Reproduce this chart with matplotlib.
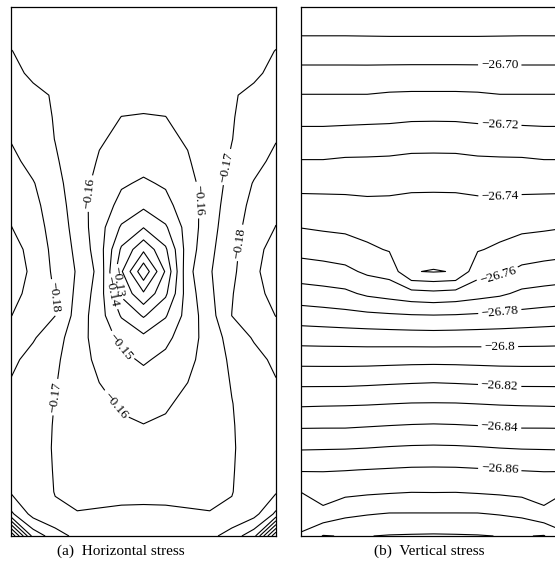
import numpy as np
import matplotlib
matplotlib.use("Agg")
import matplotlib.pyplot as plt

plt.rcParams["font.family"] = ["Liberation Serif", "DejaVu Serif"]

# Horizontal stress on the half section (left edge -> centre line),
# nodal rows listed from the top of the block down to its base.
sxx_half = [
    [-0.1680, -0.1675, -0.1668, -0.1662, -0.1655, -0.1648, -0.1642],
    [-0.1688, -0.1680, -0.1672, -0.1665, -0.1657, -0.1647, -0.1637],
    [-0.1701, -0.1688, -0.1677, -0.1668, -0.1652, -0.1640, -0.1632],
    [-0.1730, -0.1680, -0.1674, -0.1666, -0.1650, -0.1637, -0.1625],
    [-0.1755, -0.1725, -0.1690, -0.1671, -0.1652, -0.1625, -0.1615],
    [-0.1775, -0.1745, -0.1693, -0.1660, -0.1628, -0.1599, -0.1597],
    [-0.1795, -0.1752, -0.1698, -0.1653, -0.1608, -0.1583, -0.1563],
    [-0.1826, -0.1768, -0.1711, -0.1649, -0.1592, -0.1560, -0.1528],
    [-0.1846, -0.1806, -0.1732, -0.1646, -0.1569, -0.1510, -0.1489],
    [-0.1875, -0.1825, -0.1752, -0.1650, -0.1549, -0.1474, -0.1420],
    [-0.1903, -0.1840, -0.1765, -0.1661, -0.1541, -0.1387, -0.1303],
    [-0.1947, -0.1861, -0.1773, -0.1677, -0.1548, -0.1285, -0.1121],
    [-0.1969, -0.1874, -0.1780, -0.1691, -0.1571, -0.1212, -0.0924],
    [-0.1934, -0.1866, -0.1795, -0.1678, -0.1552, -0.1281, -0.1114],
    [-0.1902, -0.1851, -0.1801, -0.1661, -0.1541, -0.1391, -0.1289],
    [-0.1863, -0.1810, -0.1738, -0.1648, -0.1551, -0.1477, -0.1423],
    [-0.1822, -0.1766, -0.1717, -0.1645, -0.1575, -0.1521, -0.1489],
    [-0.1795, -0.1750, -0.1705, -0.1654, -0.1599, -0.1565, -0.1531],
    [-0.1788, -0.1735, -0.1698, -0.1660, -0.1621, -0.1590, -0.1568],
    [-0.1783, -0.1732, -0.1695, -0.1665, -0.1633, -0.1612, -0.1603],
    [-0.1780, -0.1733, -0.1693, -0.1672, -0.1650, -0.1638, -0.1630],
    [-0.1780, -0.1735, -0.1695, -0.1685, -0.1672, -0.1662, -0.1657],
    [-0.1790, -0.1745, -0.1697, -0.1694, -0.1692, -0.1688, -0.1684],
    [-0.1920, -0.1765, -0.1712, -0.1701, -0.1703, -0.1708, -0.1712],
    [-0.2500, -0.1960, -0.1850, -0.1770, -0.1760, -0.1760, -0.1760],
]

# Vertical stress on the same half section, same node layout.
syy_half = [
    [-26.6805, -26.6805, -26.6805, -26.6805, -26.6805, -26.6805, -26.6805],
    [-26.6877, -26.6877, -26.6877, -26.6876, -26.6875, -26.6875, -26.6875],
    [-26.6952, -26.6952, -26.6952, -26.6951, -26.6950, -26.6950, -26.6950],
    [-26.7028, -26.7028, -26.7028, -26.7028, -26.7030, -26.7031, -26.7031],
    [-26.7103, -26.7103, -26.7103, -26.7103, -26.7111, -26.7114, -26.7114],
    [-26.7172, -26.7172, -26.7174, -26.7177, -26.7180, -26.7186, -26.7187],
    [-26.7239, -26.7239, -26.7244, -26.7247, -26.7249, -26.7257, -26.7258],
    [-26.7305, -26.7305, -26.7312, -26.7313, -26.7316, -26.7324, -26.7325],
    [-26.7370, -26.7370, -26.7371, -26.7369, -26.7374, -26.7386, -26.7387],
    [-26.7435, -26.7432, -26.7428, -26.7421, -26.7420, -26.7419, -26.7419],
    [-26.7498, -26.7488, -26.7481, -26.7466, -26.7457, -26.7444, -26.7443],
    [-26.7569, -26.7558, -26.7546, -26.7517, -26.7493, -26.7460, -26.7455],
    [-26.7648, -26.7638, -26.7623, -26.7583, -26.7564, -26.7405, -26.7394],
    [-26.7743, -26.7732, -26.7720, -26.7683, -26.7662, -26.7638, -26.7627],
    [-26.7849, -26.7841, -26.7831, -26.7822, -26.7814, -26.7807, -26.7804],
    [-26.7960, -26.7957, -26.7955, -26.7952, -26.7950, -26.7948, -26.7946],
    [-26.8068, -26.8067, -26.8067, -26.8067, -26.8070, -26.8073, -26.8074],
    [-26.8175, -26.8175, -26.8175, -26.8180, -26.8186, -26.8191, -26.8195],
    [-26.8286, -26.8289, -26.8291, -26.8294, -26.8299, -26.8304, -26.8305],
    [-26.8388, -26.8389, -26.8389, -26.8395, -26.8401, -26.8406, -26.8409],
    [-26.8490, -26.8492, -26.8494, -26.8499, -26.8506, -26.8511, -26.8513],
    [-26.8592, -26.8595, -26.8597, -26.8602, -26.8607, -26.8612, -26.8613],
    [-26.8699, -26.8654, -26.8675, -26.8685, -26.8692, -26.8698, -26.8697],
    [-26.8755, -26.8729, -26.8779, -26.8795, -26.8805, -26.8805, -26.8805],
    [-26.8810, -26.8905, -26.8895, -26.8898, -26.8905, -26.8908, -26.8910],
]

# Text written on the labelled contour levels
sxx_label_text = {-0.18: "\u22120.18", -0.17: "\u22120.17", -0.16: "\u22120.16",
                  -0.15: "\u22120.15", -0.14: "\u22120.14", -0.13: "\u22120.13"}
syy_label_text = {-26.70: "\u221226.70", -26.72: "\u221226.72", -26.74: "\u221226.74",
                  -26.76: "\u221226.76", -26.78: "\u221226.78", -26.80: "\u221226.8",
                  -26.82: "\u221226.82", -26.84: "\u221226.84", -26.86: "\u221226.86"}

captions = ["(a)  Horizontal stress", "(b)  Vertical stress"]

# label anchor points in section coordinates (width 12, height 24)
sxx_label_spots = [(3.35, 15.56), (8.56, 15.25), (9.78, 16.74), (10.35, 13.3), (2.13, 10.84),
                   (2.0, 6.3), (4.94, 8.57), (4.62, 5.85), (4.48, 11.07), (4.85, 11.52)]
syy_label_spots = [(9.0, 21.37), (9.0, 18.6), (9.0, 15.56), (8.9, 11.9), (9.0, 10.2),
                   (9.0, 8.58), (9.0, 6.9), (9.0, 5.1), (9.0, 3.0)]


def full_section(half_rows):
    half = np.array(half_rows)
    full = np.hstack([half, half[:, -2::-1]])   # mirror about the centre line
    return np.flipud(full)                      # base row first


def draw(ax, field, levels, spots, texts):
    ny, nx = field.shape
    xs = np.arange(nx)
    ys = np.arange(ny)
    cs = ax.contour(xs, ys, field, levels=levels, colors="black",
                    linewidths=0.8, linestyles="solid")
    cs.clabel(manual=spots, inline=True, inline_spacing=3, fontsize=9.5,
              fmt=lambda v: texts.get(round(float(v), 2), ""))
    ax.set_xlim(0, nx - 1)
    ax.set_ylim(0, ny - 1)
    ax.set_xticks([])
    ax.set_yticks([])
    for sp in ax.spines.values():
        sp.set_linewidth(0.9)
        sp.set_color("black")


W, H = 555, 577
fig = plt.figure(figsize=(W / 100, H / 100), dpi=100)

ax1 = fig.add_axes([11 / W, 41 / H, 265 / W, 529 / H])
ax2 = fig.add_axes([301 / W, 41 / H, 265 / W, 529 / H])

sxx_levels = np.round(np.arange(-0.24, -0.095, 0.01), 2)
syy_levels = np.round(np.arange(-26.89, -26.685, 0.01), 2)

draw(ax1, full_section(sxx_half), sxx_levels, sxx_label_spots, sxx_label_text)
draw(ax2, full_section(syy_half), syy_levels, syy_label_spots, syy_label_text)

fig.text(121 / W, 1 - 551 / H, captions[0], ha="center", va="center", fontsize=11)
fig.text(429 / W, 1 - 551 / H, captions[1], ha="center", va="center", fontsize=11)

fig.savefig("out.png", dpi=100)
